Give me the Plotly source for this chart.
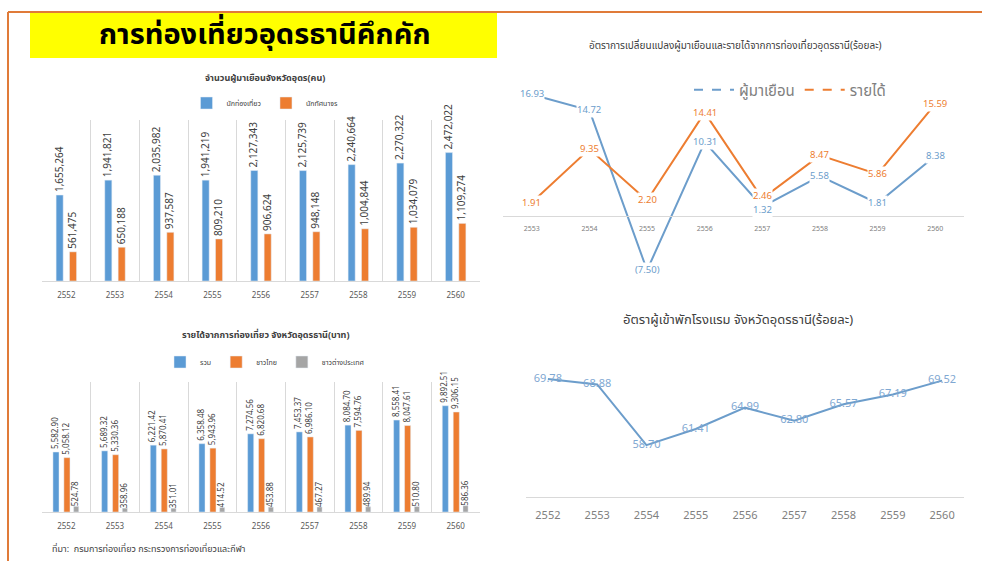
import plotly.graph_objects as go

W, H = 982, 561
THAI = "Noto Sans Thai, Noto Sans, Tahoma, sans-serif"

years = ['2552', '2553', '2554', '2555', '2556', '2557', '2558', '2559', '2560']
tourists = [1655264, 1941821, 2035982, 1941219, 2127343, 2125739, 2240664, 2270322, 2472022]
excursionists = [561475, 650188, 937587, 809210, 906624, 948148, 1004844, 1034079, 1109274]

income_total = [5582.90, 5689.32, 6221.42, 6358.48, 7274.56, 7453.37, 8084.70, 8558.41, 9892.51]
income_thai = [5058.12, 5330.36, 5870.41, 5943.96, 6820.68, 6986.10, 7594.76, 8047.61, 9306.15]
income_foreign = [524.78, 358.96, 351.01, 414.52, 453.88, 467.27, 489.94, 510.80, 586.36]

change_years = ['2553', '2554', '2555', '2556', '2557', '2558', '2559', '2560']
visitor_change = [16.93, 14.72, -7.50, 10.31, 1.32, 5.58, 1.81, 8.38]
income_change = [1.91, 9.35, 2.20, 14.41, 2.46, 8.47, 5.86, 15.59]

hotel_rate = [69.78, 68.88, 58.70, 61.41, 64.99, 62.80, 65.57, 67.19, 69.52]

BLUE = '#5B9BD5'
ORANGE = '#ED7D31'
GRAY = '#A5A5A5'
LINE_BLUE = '#6C9DCB'
GRID = '#D9D9D9'


def px(x):
    return x / W


def py(y):
    return 1 - y / H


def fmt_pct(v):
    return '(%.2f)' % abs(v) if v < 0 else '%.2f' % v


fig = go.Figure()

# --- chart 1: visitors  (bar width / offset in category units)
for vals, name, col, off in [(tourists, 'นักท่องเที่ยว', BLUE, -0.21),
                             (excursionists, 'นักทัศนาจร', ORANGE, 0.065)]:
    fig.add_trace(go.Bar(x=years, y=vals, name=name, marker_color=col, width=0.145, offset=off,
                         texttemplate='%{y:,.0f}', textposition='outside', textangle=-90,
                         constraintext='none', textfont=dict(size=10, color='#404040'),
                         cliponaxis=False, xaxis='x', yaxis='y', legend='legend'))

# --- chart 2: income
for vals, name, col, off, wd in [(income_total, 'รวม', BLUE, -0.275, 0.125),
                                 (income_thai, 'ชาวไทย', ORANGE, -0.05, 0.125),
                                 (income_foreign, 'ชาวต่างประเทศ', GRAY, 0.15, 0.105)]:
    fig.add_trace(go.Bar(x=years, y=vals, name=name, marker_color=col, width=wd, offset=off,
                         texttemplate='%{y:,.2f}', textposition='outside', textangle=-90,
                         constraintext='none', textfont=dict(size=8, color='#404040'),
                         cliponaxis=False, xaxis='x2', yaxis='y2', legend='legend2'))

# --- chart 3: change rates
fig.add_trace(go.Scatter(x=change_years, y=visitor_change, mode='lines', showlegend=False,
                         line=dict(color=LINE_BLUE, width=2), xaxis='x3', yaxis='y3'))
fig.add_trace(go.Scatter(x=change_years, y=income_change, mode='lines', showlegend=False,
                         line=dict(color=ORANGE, width=2), xaxis='x3', yaxis='y3'))
# legend-only entries (dashed symbols like the original)
fig.add_trace(go.Scatter(x=change_years[:1], y=[None], mode='lines', name='ผู้มาเยือน',
                         line=dict(color=LINE_BLUE, width=2, dash='dash'),
                         xaxis='x3', yaxis='y3', legend='legend3'))
fig.add_trace(go.Scatter(x=change_years[:1], y=[None], mode='lines', name='รายได้',
                         line=dict(color=ORANGE, width=2, dash='dash'),
                         xaxis='x3', yaxis='y3', legend='legend3'))

annotations = []
# labels with white boxes, the line seems to stop at each label
for vals, other, col in [(income_change, visitor_change, ORANGE), (visitor_change, income_change, LINE_BLUE)]:
    for i, v in enumerate(vals):
        shift = 0
        if abs(v - other[i]) < 2:  # push apart labels that would collide
            shift = 3 if v > other[i] else -3
        annotations.append(dict(x=i, y=v, xref='x3', yref='y3', text=fmt_pct(v), showarrow=False,
                                bgcolor='white', borderpad=0, yshift=shift,
                                font=dict(size=9.5, color=col, family=THAI)))

# --- chart 4: hotel occupancy
fig.add_trace(go.Scatter(x=years, y=hotel_rate, mode='lines+text', showlegend=False,
                         text=['%.2f' % v for v in hotel_rate], textposition='middle center',
                         textfont=dict(size=11, color='#7FA8D2'),
                         line=dict(color=LINE_BLUE, width=2), xaxis='x4', yaxis='y4'))

# titles / texts
texts = [
    ('การท่องเที่ยวอุดรธานีคึกคัก', 265, 35, 29, '#000000', True, 'center'),
    ('จำนวนผู้มาเยือนจังหวัดอุดร(คน)', 265, 78, 9, '#404040', True, 'center'),
    ('รายได้จากการท่องเที่ยว จังหวัดอุดรธานี(บาท)', 265, 335, 9, '#404040', True, 'center'),
    ('อัตราการเปลี่ยนแปลงผู้มาเยือนและรายได้จากการท่องเที่ยวอุดรธานี(ร้อยละ)', 735, 46, 10, '#404040', False, 'center'),
    ('อัตราผู้เข้าพักโรงแรม จังหวัดอุดรธานี(ร้อยละ)', 738, 320, 13, '#404040', False, 'center'),
    ('ที่มา:  กรมการท่องเที่ยว กระทรวงการท่องเที่ยวและกีฬา', 50, 549, 9, '#404040', False, 'left'),
]
for t, x, y, s, c, b, anchor in texts:
    annotations.append(dict(x=px(x), y=py(y), xref='paper', yref='paper', text='<b>%s</b>' % t if b else t,
                            showarrow=False, xanchor=anchor, yanchor='middle',
                            font=dict(size=s, color=c, family=THAI)))

shapes = [
    dict(type='rect', xref='paper', yref='paper', x0=px(30), x1=px(497), y0=py(58), y1=py(13),
         fillcolor='#FFFF00', line_width=0, layer='below'),
    dict(type='line', xref='paper', yref='paper', x0=px(8), x1=1, y0=py(12), y1=py(12),
         line=dict(color='#E07B39', width=2)),
    dict(type='line', xref='paper', yref='paper', x0=px(8), x1=px(8), y0=py(12), y1=0,
         line=dict(color='#E07B39', width=2)),
]

cat_axis = dict(type='category', showline=True, linecolor=GRID, tickson='boundaries', showgrid=True,
                gridcolor=GRID, ticks='', tickfont=dict(size=8, color='#595959'), fixedrange=True,
                range=[-0.5, len(years) - 0.5], ticklabelstandoff=6)
hidden_y = dict(visible=False, showgrid=False, zeroline=False, fixedrange=True)

fig.update_layout(
    width=W, height=H, margin=dict(l=0, r=0, t=0, b=0),
    paper_bgcolor='white', plot_bgcolor='white',
    font=dict(family=THAI, color='#404040'),
    showlegend=True,
    annotations=annotations, shapes=shapes,
    xaxis=dict(cat_axis, domain=[px(42), px(480)], anchor='y'),
    yaxis=dict(hidden_y, domain=[py(281), py(120)], range=[0, 3100000], anchor='x'),
    xaxis2=dict(cat_axis, domain=[px(42), px(480)], anchor='y2'),
    yaxis2=dict(hidden_y, domain=[py(512), py(382)], range=[0, 12100], anchor='x2'),
    xaxis3=dict(type='category', categoryorder='array', categoryarray=change_years,
                range=[-0.5, len(change_years) - 0.5],
                domain=[px(503), px(964)], anchor='free', position=py(216),
                showline=True, linecolor=GRID, showgrid=False, ticks='', ticklabelstandoff=6,
                tickfont=dict(size=7, color='#808080'), fixedrange=True),
    yaxis3=dict(hidden_y, domain=[py(276), py(76)], range=[-8.3, 19.5], anchor='x3'),
    xaxis4=dict(type='category', domain=[px(526), px(964)], anchor='y4', showline=True,
                linecolor=GRID, showgrid=False, ticks='', ticklabelstandoff=8,
                tickfont=dict(size=11, color='#808080'), fixedrange=True),
    yaxis4=dict(hidden_y, domain=[py(497), py(348)], range=[50, 75], anchor='x4'),
    legend=dict(orientation='h', x=px(265), xanchor='center', y=py(103), yanchor='middle',
                font=dict(size=7, color='#404040'), itemwidth=30),
    legend2=dict(orientation='h', x=px(265), xanchor='center', y=py(362), yanchor='middle',
                 font=dict(size=7, color='#404040'), itemwidth=30),
    legend3=dict(orientation='h', x=px(790), xanchor='center', y=py(90), yanchor='middle',
                 font=dict(size=15, color='#808080'), itemwidth=40),
)

fig.write_html("out.html", config={'displayModeBar': False},
               post_script="document.body.style.margin='0';")
